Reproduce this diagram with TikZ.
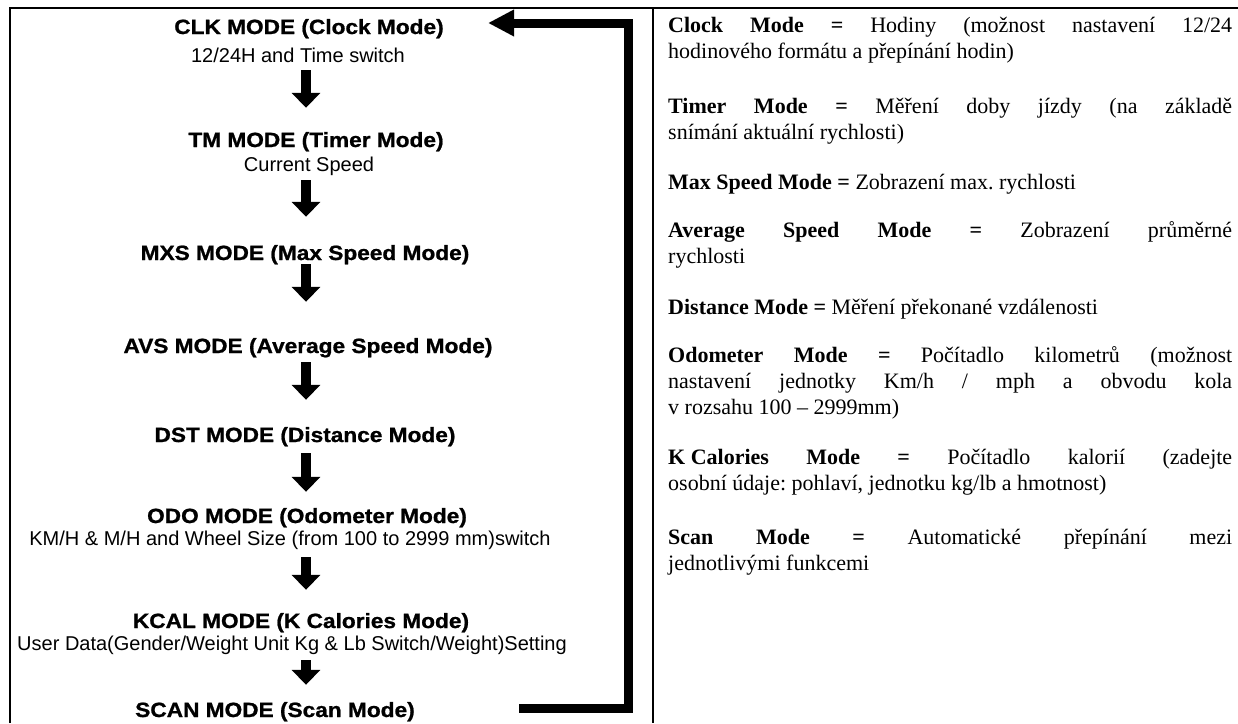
\documentclass[tikz,border=0pt]{standalone}
\usepackage{fontspec}
\setmainfont{Liberation Serif}
\newfontfamily\modefont{Liberation Sans}[FakeStretch=1.1, FakeBold=1]
\newfontfamily\infofont{Liberation Sans}
\usetikzlibrary{arrows.meta}
\hyphenpenalty=10000
\tolerance=10000
\frenchspacing

\begin{document}
\begin{tikzpicture}[x=1pt, y=-1pt,
    mode/.style={font=\modefont\bfseries\fontsize{20.6}{24}\selectfont, inner sep=0pt, text height=15pt, text depth=4pt, anchor=base},
    info/.style={font=\infofont\fontsize{20}{24}\selectfont, inner sep=0pt, text height=14.5pt, text depth=4pt, anchor=base},
    popis/.style={font=\fontsize{22}{25.8}\selectfont, text width=564pt, align=justify, inner sep=0pt, anchor=north west},
    krok/.style={line width=10pt, -{Triangle[width=28pt, length=15pt]}, shorten <=5pt},
    zpet/.style={line width=9pt, -{Triangle[width=25pt, length=26pt]}},
    ramec/.style={line width=2pt}]

    \path[fill=white] (0, 0) rectangle (1238, 723);
    \useasboundingbox (0, 0) rectangle (1238, 723);

    % Table
    \draw[ramec] (10, 723) |- (1238, 7.5);
    \draw[ramec] (653, 7.5) -- (653, 723);

    % Modes
    \node[mode] at (309, 34) (clk) {CLK MODE (Clock Mode)};
    \node[info] at (298, 62) (clksub) {12/24H and Time switch};
    \node[mode] at (316, 147) (tm) {TM MODE (Timer Mode)};
    \node[info] at (309, 171) (tmsub) {Current Speed};
    \node[mode] at (305, 260) (mxs) {MXS MODE (Max Speed Mode)};
    \node[mode] at (308, 353) (avs) {AVS MODE (Average Speed Mode)};
    \node[mode] at (305, 442) (dst) {DST MODE (Distance Mode)};
    \node[mode] at (307, 523) (odo) {ODO MODE (Odometer Mode)};
    \node[info] at (290, 545) (odosub) {KM/H \& M/H and Wheel Size (from 100 to 2999 mm)switch};
    \node[mode] at (301, 628) (kcal) {KCAL MODE (K Calories Mode)};
    \node[info] at (292, 650) (kcalsub) {User Data(Gender/Weight Unit Kg \& Lb Switch/Weight)Setting};
    \node[mode] at (275, 717) (scan) {SCAN MODE (Scan Mode)};

    \coordinate (osa) at (306, 0);
    \draw[krok, shorten <=4pt, shorten >=24pt] (clksub.south -| osa) -- (tm.north -| osa);
    \draw[krok, shorten >=28pt] (tmsub.south -| osa) -- (mxs.north -| osa);
    \draw[krok, shorten <=0pt, shorten >=36pt] (mxs.south -| osa) -- (avs.north -| osa);
    \draw[krok, shorten >=27pt] (avs.south -| osa) -- (dst.north -| osa);
    \draw[krok, shorten <=7pt, shorten >=16pt] (dst.south -| osa) -- (odo.north -| osa);
    \draw[krok, shorten <=8pt, shorten >=23pt] (odosub.south -| osa) -- (kcal.north -| osa);
    \draw[krok, shorten <=6pt, shorten >=17pt] (kcalsub.south -| osa) -- (scan.north -| osa);

    % Back to CLK
    \coordinate (zpet1) at (519, 708);
    \coordinate (roh) at (628.5, 365);
    \coordinate (zpet2) at (488, 23);
    \draw[zpet] (zpet1) -| (roh) |- (zpet2);

    % Descriptions
    \node[popis] at (668, 14.6) (clkinfo) {\strut\textbf{Clock Mode =} Hodiny (možnost nastavení 12/24\linebreak hodinového formátu a přepínání hodin)};
    \node[popis] at (668, 95.6) (tminfo) {\strut\textbf{Timer Mode =} Měření doby jízdy (na základě\linebreak snímání aktuální rychlosti)};
    \node[popis] at (668, 171.6) (mxsinfo) {\strut\textbf{Max Speed Mode =} Zobrazení max. rychlosti};
    \node[popis] at (668, 219.6) (avsinfo) {\strut\textbf{Average Speed Mode =} Zobrazení průměrné\linebreak rychlosti};
    \node[popis] at (668, 296.6) (dstinfo) {\strut\textbf{Distance Mode =} Měření překonané vzdálenosti};
    \node[popis] at (668, 344.6) (odoinfo) {\strut\textbf{Odometer Mode =} Počítadlo kilometrů (možnost\linebreak nastavení jednotky Km/h / mph a obvodu kola\linebreak v rozsahu 100 – 2999mm)};
    \node[popis] at (668, 446.6) (kcalinfo) {\strut\textbf{\mbox{K Calories} Mode =} Počítadlo kalorií (zadejte\linebreak osobní údaje: pohlaví, jednotku kg/lb a hmotnost)};
    \node[popis] at (668, 526.6) (scaninfo) {\strut\textbf{Scan Mode =} Automatické přepínání mezi\linebreak jednotlivými funkcemi};

\end{tikzpicture}
\end{document}
